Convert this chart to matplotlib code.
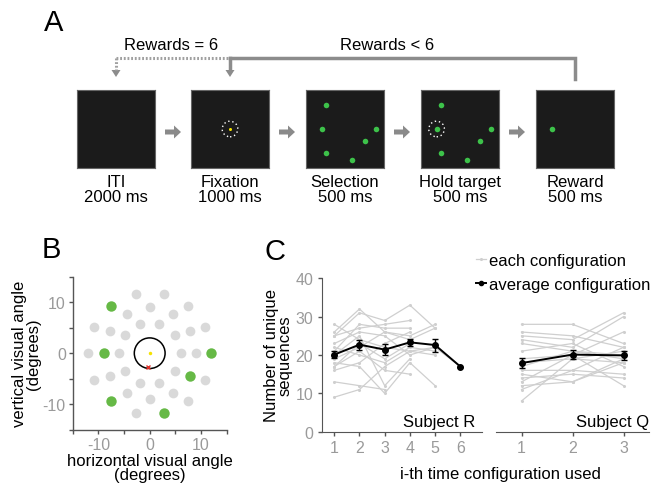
import matplotlib
matplotlib.use("Agg")
import matplotlib.pyplot as plt
from matplotlib.patches import Circle, FancyArrow
from matplotlib.lines import Line2D

plt.rcParams['font.family'] = ['Liberation Sans', 'DejaVu Sans']
plt.rcParams['axes.unicode_minus'] = False

# ---------------- data ----------------
stages = ['ITI', 'Fixation', 'Selection', 'Hold target', 'Reward']
durations = ['2000 ms', '1000 ms', '500 ms', '500 ms', '500 ms']
reward_eq_label = 'Rewards = 6'
reward_lt_label = 'Rewards < 6'

# target grid (degrees)
gray_x = [-2.6, 2.7, 0, 7.5, -4.4, 4.6, -10.8, -7.8, -1.8, 1.9, 7.8, 10.8, -4.8, 4.9,
          -12, -5.9, 6, 9, -4.8, 4.9, -7.8, -10.8, 10.8, -1.8, 1.9, -4.4, 4.6, 0, 7.5, -2.6]
gray_y = [11.7, 11.7, 9, 9.3, 7.7, 7.7, 5.2, 4.4, 5.75, 5.75, 4.4, 5.2, 3.5, 3.5,
          0, 0, 0, 0, -3.5, -3.5, -4.5, -5.2, -5.2, -5.75, -5.75, -7.8, -7.8, -9, -9.4, -11.8]
green_x = [-7.5, -9, -7.5, 2.7, 7.8, 12]
green_y = [9.3, 0, -9.4, -11.8, -4.5, 0]
chosen_idx = 1
fix_window_r = 3.0
eye_x, eye_y = -0.3, -2.7

# Subject R: each configuration across repetitions
subjR_lines = [
    [28, 24, 22, 21, 20],
    [26, 32, 26, 25, 28],
    [25, 31, 29, 33, 27],
    [25, 27, 28, 29],
    [23, 26, 25, 20, 22],
    [22, 20, 18, 22, 21],
    [21, 28, 27, 27],
    [20, 25, 12, 19],
    [19, 22, 26, 24, 27],
    [18, 17, 10, 18, 12],
    [17, 23, 19, 23],
    [17, 21, 16, 15],
    [16, 18, 23, 26],
    [13, 12, 11],
    [9, 11, 17, 21, 22, 17],
]
subjR_mean = [20.1, 22.7, 21.4, 23.3, 22.6, 17.0]
subjR_err = [1.0, 1.3, 1.35, 1.0, 1.7, 0.0]

subjQ_lines = [
    [28, 28, 23], [26, 25, 22], [25, 24, 31], [24, 22, 30], [23, 21, 19],
    [21, 23, 17], [19, 20, 26], [18, 19, 21], [17, 21, 20], [16, 16, 15],
    [15, 13, 18], [14, 15, 14], [13, 20, 12], [12, 13, 19], [11, 16, 22], [8, 19, 18],
]
subjQ_mean = [17.9, 20.1, 19.9]
subjQ_err = [1.25, 1.1, 1.2]

W, H = 661, 485
fig = plt.figure(figsize=(W / 100, H / 100), dpi=100)


def rect(x0, y0, x1, y1):
    return [x0 / W, 1 - y1 / H, (x1 - x0) / W, (y1 - y0) / H]


GRAY_TXT = '#9a9a9a'
SPINE = '#555555'
GREEN_B = '#66b946'
GREEN_A = '#3dc24a'
DOT_GRAY = '#d9d9d9'

# ---------------- overlay for panel A diagram ----------------
ov = fig.add_axes([0, 0, 1, 1])
ov.set_xlim(0, W)
ov.set_ylim(H, 0)
ov.axis('off')

box_x0 = [77, 191, 306, 421, 536]
bw = 78
by0, by1 = 91, 169
for i, bx in enumerate(box_x0):
    ax = fig.add_axes(rect(bx, by0, bx + bw, by1))
    ax.set_facecolor('#1b1b1b')
    ax.set_xlim(-15, 15)
    ax.set_ylim(-15, 15)
    ax.set_xticks([])
    ax.set_yticks([])
    for s in ax.spines.values():
        s.set_color('#666666')
        s.set_linewidth(0.8)
    st = stages[i]
    if st == 'Fixation':
        ax.plot([0], [0], 'o', color='#f2e000', ms=2.2, mec='none')
        ax.add_patch(Circle((0, 0), fix_window_r, fill=False, ec='white', lw=1.0, ls=(0, (1, 2))))
    elif st in ('Selection', 'Hold target'):
        ax.plot(green_x, green_y, 'o', color=GREEN_A, ms=4, mec='none')
        if st == 'Hold target':
            ax.add_patch(Circle((green_x[chosen_idx], green_y[chosen_idx]), fix_window_r,
                                fill=False, ec='white', lw=1.0, ls=(0, (1, 2))))
    elif st == 'Reward':
        ax.plot([green_x[chosen_idx]], [green_y[chosen_idx]], 'o', color=GREEN_A, ms=4, mec='none')
    cx = bx + bw / 2
    ov.text(cx, 183, st, ha='center', va='center', fontsize=12)
    ov.text(cx, 198, durations[i], ha='center', va='center', fontsize=12)
    if i < 4:
        ov.add_patch(FancyArrow(bx + bw + 10, 133, 9, 0, width=5, head_width=13, head_length=7,
                                length_includes_head=False, color='#8a8a8a', lw=0))

ARR = '#8c8c8c'
cx_iti = box_x0[0] + bw / 2
cx_fix = box_x0[1] + bw / 2
cx_rew = box_x0[4] + bw / 2
ytop = 59
ov.plot([cx_iti, cx_fix], [ytop, ytop], color='#a0a0a0', lw=2.2, ls=(0, (0.6, 0.6)),
        solid_capstyle='butt')
ov.plot([cx_iti, cx_iti], [ytop, 71], color='#a0a0a0', lw=2.2, ls=(0, (0.6, 0.6)))
ov.add_patch(FancyArrow(cx_iti, 69, 0, 2, width=0.1, head_width=9, head_length=7,
                        color=ARR, lw=0))
ov.plot([cx_fix, cx_rew, cx_rew], [ytop, ytop, 80], color=ARR, lw=2.5, solid_joinstyle='miter')
ov.plot([cx_fix, cx_fix], [ytop, 70], color=ARR, lw=2.5)
ov.add_patch(FancyArrow(cx_fix, 69, 0, 2, width=0.1, head_width=9, head_length=7,
                        color=ARR, lw=0))
ov.text(171, 46, reward_eq_label, ha='center', va='center', fontsize=12)
ov.text(387, 46, reward_lt_label, ha='center', va='center', fontsize=12)

ov.text(44, 23, 'A', ha='left', va='center', fontsize=21)
ov.text(42, 250, 'B', ha='left', va='center', fontsize=21)
ov.text(264, 252, 'C', ha='left', va='center', fontsize=21)

# ---------------- panel B ----------------
axB = fig.add_axes(rect(72.7, 277.7, 226.7, 430.7))
axB.set_xlim(-15, 15)
axB.set_ylim(-15, 15)
axB.plot(gray_x, gray_y, 'o', color=DOT_GRAY, ms=7, mec='none')
axB.plot(green_x, green_y, 'o', color=GREEN_B, ms=7.5, mec='none')
axB.add_patch(Circle((0, 0), fix_window_r, fill=False, ec='black', lw=1.1))
axB.plot([0], [0], 'o', color='#f5e200', ms=2.5, mec='none')
axB.plot([eye_x], [eye_y], 'x', color='#e0302a', ms=3.5, mew=1)
for s in ['top', 'right']:
    axB.spines[s].set_visible(False)
for s in ['left', 'bottom']:
    axB.spines[s].set_color(SPINE)
    axB.spines[s].set_linewidth(1)
ticksB = [-15, -10, -5, 0, 5, 10, 15]
labB = ['', '-10', '', '0', '', '10', '']
axB.set_xticks(ticksB)
axB.set_xticklabels(labB)
axB.set_yticks(ticksB)
axB.set_yticklabels(labB)
axB.tick_params(direction='out', length=3, width=1, color=SPINE, labelcolor=GRAY_TXT,
                labelsize=11.5, pad=2)
axB.set_xlabel('horizontal visual angle\n(degrees)', fontsize=12, labelpad=1, linespacing=0.9)
axB.set_ylabel('vertical visual angle\n(degrees)', fontsize=12, labelpad=1, linespacing=0.9)

# ---------------- panel C ----------------
axR = fig.add_axes(rect(321.7, 279.3, 481.7, 432.7))
axQ = fig.add_axes(rect(496, 279.3, 649, 432.7))
LINE_GRAY = '#cfcfcf'
for ax, lines, mean, err, label in [(axR, subjR_lines, subjR_mean, subjR_err, 'Subject R'),
                                    (axQ, subjQ_lines, subjQ_mean, subjQ_err, 'Subject Q')]:
    for ln in lines:
        ax.plot(range(1, len(ln) + 1), ln, '-o', color=LINE_GRAY, lw=0.9, ms=2.2, mec='none', zorder=1)
    ax.errorbar(range(1, len(mean) + 1), mean, yerr=err, fmt='-o', color='black', lw=1.4,
                ms=4, capsize=2, elinewidth=1, capthick=1, zorder=3)
    ax.set_ylim(0, 40)
    ax.spines['top'].set_visible(False)
    ax.spines['right'].set_visible(False)
    ax.spines['bottom'].set_color(SPINE)
    ax.spines['left'].set_color(SPINE)
    ax.tick_params(direction='out', length=3, width=1, color=SPINE, labelcolor=GRAY_TXT,
                   labelsize=11.5, pad=3)
    ax.set_xticks(range(1, len(mean) + 1))
    ax.text(1.0 if ax is axQ else 0.96, 0.02, label, transform=ax.transAxes, ha='right',
            va='bottom', fontsize=12)

axR.set_xlim(0.5, 6.85)
axQ.set_xlim(0.5, 3.5)
axR.set_yticks([0, 10, 20, 30, 40])
axQ.spines['left'].set_visible(False)
axQ.set_yticks([])
axR.set_ylabel('Number of unique\nsequences', fontsize=12, labelpad=2, linespacing=0.9)
ov.text(500, 475, 'i-th time configuration used', ha='center', va='center', fontsize=12)

h1 = Line2D([], [], color=LINE_GRAY, lw=0.9, marker='o', ms=2.2, mec='none')
h2 = Line2D([], [], color='black', lw=1.4, marker='o', ms=3)
fig.legend([h1, h2], ['each configuration', 'average configuration'],
           loc='upper left', bbox_to_anchor=(476 / W, 1 - 254 / H), frameon=False,
           fontsize=12, handlelength=0.6, handletextpad=0.2, labelspacing=0.55,
           borderpad=0, borderaxespad=0)

fig.savefig('out.png', dpi=100)
